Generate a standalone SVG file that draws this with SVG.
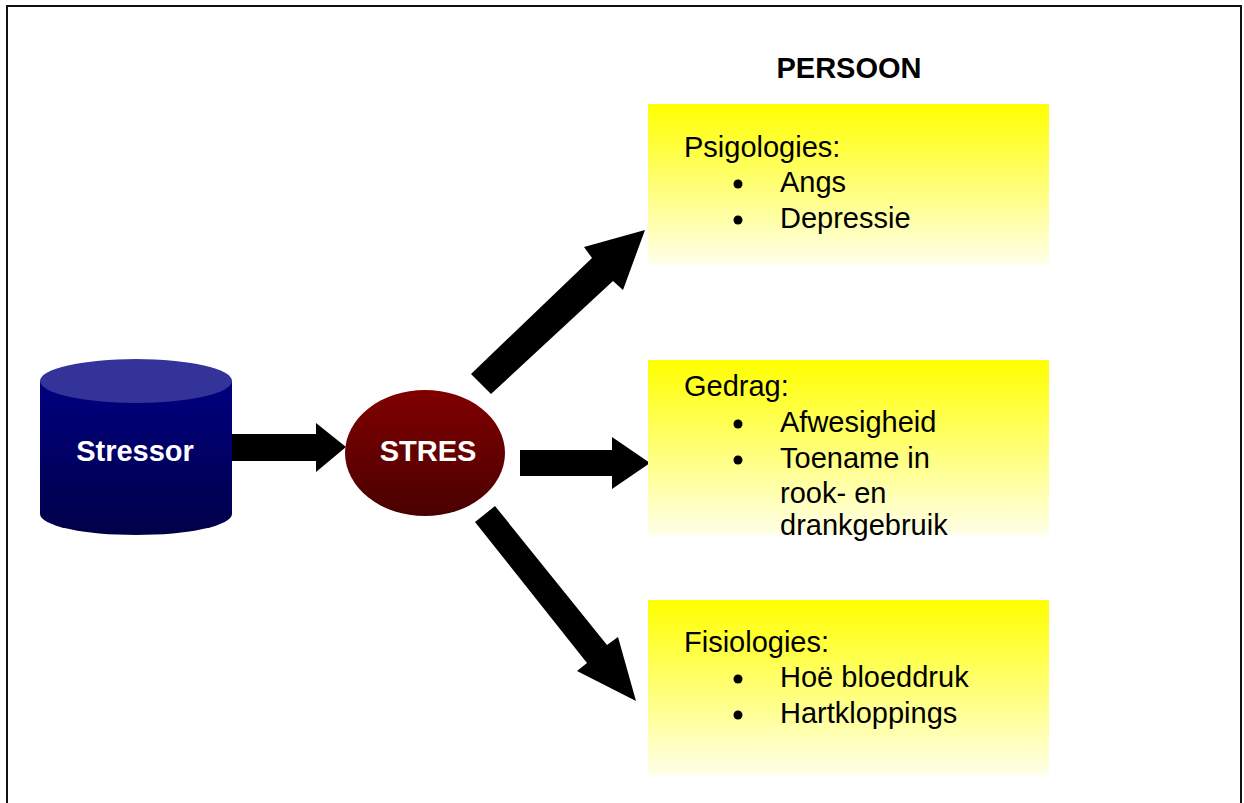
<svg xmlns="http://www.w3.org/2000/svg" width="1244" height="803" viewBox="0 0 1244 803">
<defs>
<linearGradient id="yel" x1="0" y1="0" x2="0" y2="1">
<stop offset="0" stop-color="#FFFF00"/>
<stop offset="1" stop-color="#FFFFE8"/>
</linearGradient>
<linearGradient id="navy" x1="0" y1="0" x2="0" y2="1">
<stop offset="0" stop-color="#000080"/>
<stop offset="1" stop-color="#000048"/>
</linearGradient>
<linearGradient id="red" x1="0" y1="0" x2="0" y2="1">
<stop offset="0" stop-color="#800000"/>
<stop offset="1" stop-color="#4A0000"/>
</linearGradient>
<style>
.t{font-family:"Liberation Sans",Arial,sans-serif;font-size:29px;fill:#000}
.w{font-family:"Liberation Sans",Arial,sans-serif;font-size:29px;font-weight:bold;fill:#fff}
.b{fill:#000}
.box{fill:url(#yel)}
</style>
</defs>
<rect width="1244" height="803" fill="#fff"/>
<rect x="7" y="6" width="1234" height="820" fill="none" stroke="#111" stroke-width="2"/>
<text class="t" x="849" y="78" text-anchor="middle" font-weight="bold" font-size="31.5">PERSOON</text>

<g id="connectors">
<polygon class="b" points="232,434 316,434 316,423 346,447 316,472 316,461 232,461"/>
<polygon class="b" points="520,450 612,450 612,437 650,463 612,489 612,476 520,476"/>
<polygon class="b" points="471,374 592,258 584,247 645,230 623,290 613,281 491,394"/>
<polygon class="b" points="475,522 587,663 577,671 636,701 618,637 607,645 495,506"/>
</g>

<g id="stressor">
<path d="M40,381 L40,514 A96,21 0 0 0 232,514 L232,381 Z" fill="url(#navy)"/>
<ellipse cx="136" cy="381" rx="96" ry="22" fill="#333399"/>
<text class="w" x="135" y="461" text-anchor="middle">Stressor</text>
</g>

<g id="stres">
<ellipse cx="425" cy="453" rx="80" ry="63" fill="url(#red)"/>
<text class="w" x="428" y="461" text-anchor="middle">STRES</text>
</g>

<g id="psigologies">
<rect class="box" x="648" y="104" width="401" height="160"/>
<text class="t" x="684" y="157">Psigologies:</text>
<circle class="b" cx="738" cy="184" r="4.5"/>
<text class="t" x="780" y="192">Angs</text>
<circle class="b" cx="738" cy="220" r="4.5"/>
<text class="t" x="780" y="228">Depressie</text>
</g>

<g id="gedrag">
<rect class="box" x="648" y="360" width="401" height="175"/>
<text class="t" x="684" y="396">Gedrag:</text>
<circle class="b" cx="738" cy="424" r="4.5"/>
<text class="t" x="780" y="432">Afwesigheid</text>
<circle class="b" cx="738" cy="460" r="4.5"/>
<text class="t" x="780" y="468">Toename in</text>
<text class="t" x="780" y="503">rook- en</text>
<text class="t" x="780" y="535">drankgebruik</text>
</g>

<g id="fisiologies">
<rect class="box" x="648" y="600" width="401" height="175"/>
<text class="t" x="684" y="652">Fisiologies:</text>
<circle class="b" cx="738" cy="679" r="4.5"/>
<text class="t" x="780" y="687">Hoë bloeddruk</text>
<circle class="b" cx="738" cy="715" r="4.5"/>
<text class="t" x="780" y="723">Hartkloppings</text>
</g>
</svg>
